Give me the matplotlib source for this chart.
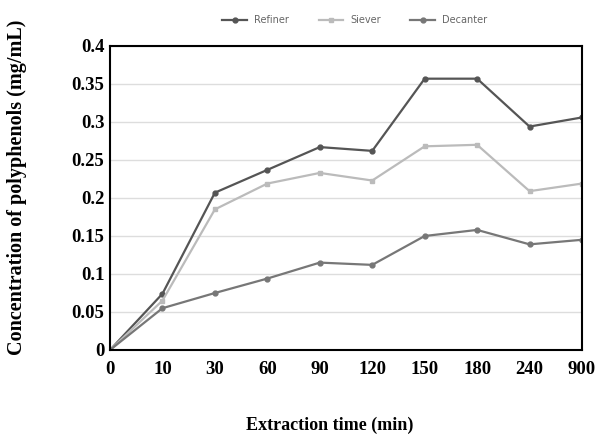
import matplotlib
matplotlib.use("Agg")
import matplotlib.pyplot as plt

times = ["0", "10", "30", "60", "90", "120", "150", "180", "240", "900"]
refiner = [0, 0.074, 0.207, 0.237, 0.267, 0.262, 0.357, 0.357, 0.294, 0.306]
siever = [0, 0.065, 0.185, 0.219, 0.233, 0.223, 0.268, 0.270, 0.209, 0.219]
decanter = [0, 0.055, 0.075, 0.094, 0.115, 0.112, 0.150, 0.158, 0.139, 0.145]
yticks = [0, 0.05, 0.1, 0.15, 0.2, 0.25, 0.3, 0.35, 0.4]
ytick_labels = ["0", "0.05", "0.1", "0.15", "0.2", "0.25", "0.3", "0.35", "0.4"]

fig = plt.figure(figsize=(5.97, 4.34), dpi=100)
ax = fig.add_axes([110/597, 1-350/434, (582-110)/597, (350-46)/434])
x = list(range(len(times)))
ax.plot(x, refiner, color="#555555", lw=1.6, marker="o", ms=3.5, label="Refiner")
ax.plot(x, siever, color="#bbbbbb", lw=1.6, marker="s", ms=3.5, label="Siever")
ax.plot(x, decanter, color="#777777", lw=1.6, marker="o", ms=3.5, label="Decanter")
ax.set_xlim(0, 9)
ax.set_ylim(0, 0.4)
ax.set_yticks(yticks)
ax.set_yticklabels(ytick_labels)
ax.set_xticks(x)
ax.set_xticklabels(times)
ax.grid(axis="y", color="#dddddd", lw=1)
ax.set_axisbelow(True)
for s in ax.spines.values():
    s.set_linewidth(1.5)
    s.set_color("black")
ax.tick_params(axis="y", length=0, pad=4)
ax.tick_params(axis="x", length=0, pad=8)
for lab in ax.get_xticklabels() + ax.get_yticklabels():
    lab.set_fontfamily("Liberation Serif")
    lab.set_fontweight("bold")
    lab.set_fontsize(13.5)
fig.text(17/597, 1-187/434, "Concentration of polyphenols (mg/mL)", rotation=90,
         ha="center", va="center", fontfamily="Liberation Serif",
         fontweight="bold", fontsize=14.5)
fig.text(330/597, 1-425/434, "Extraction time (min)", ha="center", va="center",
         fontfamily="Liberation Serif", fontweight="bold", fontsize=13)
leg = fig.legend(loc="center", bbox_to_anchor=(355/597, 1-20/434), ncol=3, frameon=False,
                 fontsize=7, handlelength=2.5, columnspacing=3)
for t in leg.get_texts():
    t.set_color("#666666")
fig.savefig("out.png", dpi=100)
